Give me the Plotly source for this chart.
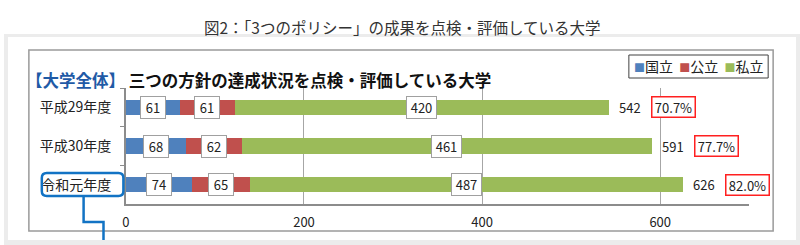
import plotly.graph_objects as go

categories = ["平成29年度", "平成30年度", "令和元年度"]
national = [61, 68, 74]
public = [61, 62, 65]
private = [420, 461, 487]
totals = [542, 591, 626]
percents = ["70.7%", "77.7%", "82.0%"]
series_names = ["国立", "公立", "私立"]
colors = ["#4f81bd", "#c0504d", "#9bbb59"]
x_ticks = [0, 200, 400, 600]

W, H = 800, 245
FONT = "Noto Sans CJK JP"


def px(x):
    return x / W


def py(y):
    return 1 - y / H


fig = go.Figure()
for name, vals, col in zip(series_names, [national, public, private], colors):
    fig.add_trace(go.Bar(
        y=categories, x=vals, name=name, orientation="h",
        marker=dict(color=col, line=dict(width=0)),
        hoverinfo="skip", showlegend=False,
    ))

annotations = []
for i, cat in enumerate(categories):
    starts = [0, national[i], national[i] + public[i]]
    segs = [national[i], public[i], private[i]]
    for s, v in zip(starts, segs):
        annotations.append(dict(
            x=s + v / 2, y=cat, xref="x", yref="y", text=str(v), showarrow=False,
            font=dict(family=FONT, size=13, color="#222"),
            width=22 if v < 100 else 27, height=19,
            bgcolor="white", bordercolor="#a0a0a0", borderwidth=1, borderpad=1,
        ))
    annotations.append(dict(
        x=totals[i], y=cat, xref="x", yref="y", text=str(totals[i]), showarrow=False,
        xanchor="left", xshift=8,
        font=dict(family=FONT, size=13, color="#222"),
    ))
    annotations.append(dict(
        x=totals[i], y=cat, xref="x", yref="y", text=percents[i], showarrow=False,
        xanchor="left", xshift=42,
        font=dict(family=FONT, size=13, color="#222"),
        width=38, height=15,
        bgcolor="white", bordercolor="#ff2020", borderwidth=1.5, borderpad=2,
    ))

annotations.append(dict(
    x=0.5, y=py(14), xref="paper", yref="paper", showarrow=False,
    text="図2：「3つのポリシー」の成果を点検・評価している大学",
    font=dict(family=FONT, size=15.5, color="#333"),
))
annotations.append(dict(
    x=px(20), y=py(66), xref="paper", yref="paper", showarrow=False, xanchor="left",
    text="<b><span style='color:#1f5aa6'>【大学全体】</span> 三つの方針の達成状況を点検・評価している大学</b>",
    font=dict(family=FONT, size=16.5, color="#111"),
))

# legend (drawn as text using the series names/colours)
legend_text = "&nbsp;&nbsp;".join(
    f"<span style='color:{c};font-size:11px'>■</span>{n}" for n, c in zip(series_names, colors)
)
annotations.append(dict(
    x=px(698), y=py(66.5), xref="paper", yref="paper", showarrow=False,
    xanchor="center", yanchor="middle", text=legend_text,
    font=dict(family=FONT, size=14, color="#222"),
))

shapes = [
    dict(type="rect", xref="paper", yref="paper", x0=0, x1=1, y0=0, y1=py(34),
         fillcolor="#ececec", line=dict(width=0), layer="below"),
    dict(type="rect", xref="paper", yref="paper", x0=px(4), x1=px(796), y0=py(240), y1=py(37),
         fillcolor="white", line=dict(width=0), layer="below"),
    dict(type="rect", xref="paper", yref="paper", x0=px(25), x1=px(773), y0=py(231), y1=py(50),
         fillcolor="rgba(0,0,0,0)", line=dict(width=1.5, color="#9a9a9a"), layer="below"),
    dict(type="rect", xref="paper", yref="paper", x0=px(628), x1=px(768), y0=py(78), y1=py(55),
         fillcolor="white", line=dict(width=1, color="#404040"), layer="below"),
]


def rounded_rect(x0, y0, x1, y1, r):
    return (f"M{px(x0 + r)},{py(y0)} L{px(x1 - r)},{py(y0)} Q{px(x1)},{py(y0)} {px(x1)},{py(y0 + r)} "
            f"L{px(x1)},{py(y1 - r)} Q{px(x1)},{py(y1)} {px(x1 - r)},{py(y1)} "
            f"L{px(x0 + r)},{py(y1)} Q{px(x0)},{py(y1)} {px(x0)},{py(y1 - r)} "
            f"L{px(x0)},{py(y0 + r)} Q{px(x0)},{py(y0)} {px(x0 + r)},{py(y0)} Z")


shapes.append(dict(type="path", xref="paper", yref="paper", path=rounded_rect(38, 173, 120, 196, 5),
                   line=dict(color="#1273c4", width=2.5)))
shapes.append(dict(type="path", xref="paper", yref="paper",
                   path=f"M{px(80)},{py(196)} L{px(80)},{py(222)} L{px(100)},{py(222)} L{px(100)},{py(240)}",
                   line=dict(color="#1273c4", width=2.5)))

fig.update_layout(
    width=W, height=H,
    margin=dict(l=0, r=0, t=0, b=0),
    paper_bgcolor="white", plot_bgcolor="rgba(0,0,0,0)",
    barmode="stack", bargap=0.61,
    showlegend=False,
    xaxis=dict(domain=[px(122.5), px(749)], range=[0, 700], tickvals=x_ticks,
               showgrid=True, gridcolor="#a6a6a6", gridwidth=1, zeroline=False,
               showline=True, linecolor="#8c8c8c", linewidth=1.5,
               ticks="", ticklabelstandoff=6,
               tickfont=dict(family=FONT, size=13, color="#222"),
               fixedrange=True),
    yaxis=dict(domain=[py(204), py(88)], autorange="reversed", type="category",
               showline=True, linecolor="#8c8c8c", linewidth=1.5,
               ticks="outside", tickson="boundaries", ticklen=4, tickcolor="#8c8c8c",
               ticklabelstandoff=10,
               tickfont=dict(family=FONT, size=14, color="#222"),
               showgrid=False, fixedrange=True),
    annotations=annotations,
    shapes=shapes,
)

fig.write_html("out.html")
